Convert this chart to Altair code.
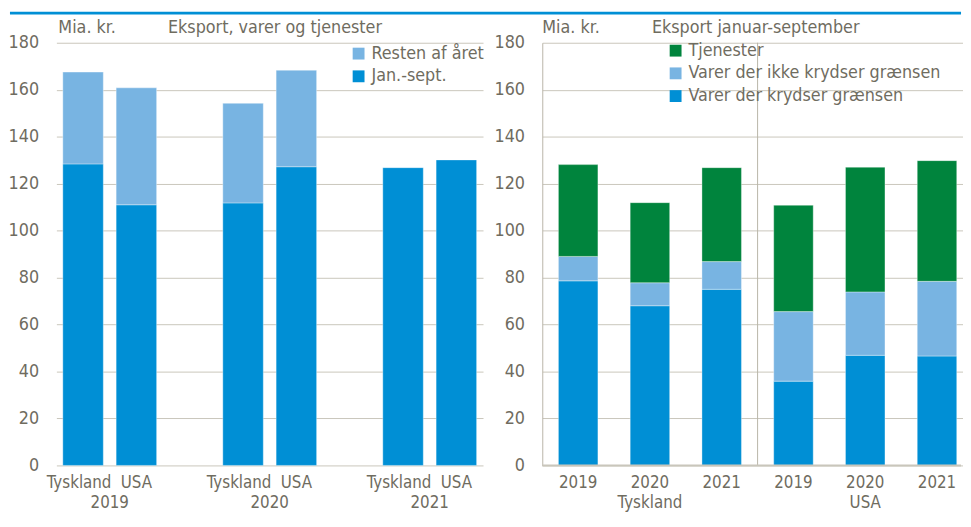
import altair as alt
import pandas as pd

FONT = "DejaVu Sans Condensed"
TXT = "#6f6c5f"
GRID = "#c9c6bb"
AXISC = "#b9b5a8"
BLUE = "#008fd5"
LIGHT = "#78b4e2"
GREEN = "#00843d"
FS = 18
FSX = 17

# ---------------- data ----------------
years = ["2019", "2020", "2021"]
countries = ["Tyskland", "USA"]

left_series = ["Resten af året", "Jan.-sept."]
jan_sept_tyskland = [128.4, 111.8, 126.8]
jan_sept_usa = [111.0, 127.2, 130.1]
rest_years = ["2019", "2020"]
rest_tyskland = [39.1, 42.4]
rest_usa = [49.8, 41.1]

right_series = ["Tjenester", "Varer der ikke krydser grænsen", "Varer der krydser grænsen"]
krydser_tyskland = [78.6, 68.0, 75.0]
ikke_tyskland = [10.4, 9.8, 11.8]
tjenester_tyskland = [39.1, 34.1, 40.0]
krydser_usa = [35.9, 46.9, 46.6]
ikke_usa = [29.6, 27.0, 31.8]
tjenester_usa = [45.3, 53.1, 51.4]

left_titles = ["Mia. kr.", "Eksport, varer og tjenester"]
right_titles = ["Mia. kr.", "Eksport januar-september"]
y_ticks = [0, 20, 40, 60, 80, 100, 120, 140, 160, 180]

# ---------------- tables ----------------
left_slots = ["2019|Tyskland", "2019|USA", "gap1",
              "2020|Tyskland", "2020|USA", "gap2",
              "2021|Tyskland", "2021|USA"]
rows = []
for c, js, rs in [("Tyskland", jan_sept_tyskland, rest_tyskland),
                  ("USA", jan_sept_usa, rest_usa)]:
    for y, v in zip(years, js):
        rows.append({"slot": f"{y}|{c}", "series": "Jan.-sept.", "value": v, "ord": 0})
    for y, v in zip(rest_years, rs):
        rows.append({"slot": f"{y}|{c}", "series": "Resten af året", "value": v, "ord": 1})
dfl = pd.DataFrame(rows)
dfl_lab_t = pd.DataFrame([{"slot": f"{y}|Tyskland", "t": "Tyskland"} for y in years])
dfl_lab_u = pd.DataFrame([{"slot": f"{y}|USA", "t": "USA"} for y in years])

right_slots = [f"{c}|{y}" for c in countries for y in years]
rows = []
for c, kr, ik, tj in [("Tyskland", krydser_tyskland, ikke_tyskland, tjenester_tyskland),
                      ("USA", krydser_usa, ikke_usa, tjenester_usa)]:
    for i, y in enumerate(years):
        rows.append({"slot": f"{c}|{y}", "series": right_series[2], "value": kr[i], "ord": 0})
        rows.append({"slot": f"{c}|{y}", "series": right_series[1], "value": ik[i], "ord": 1})
        rows.append({"slot": f"{c}|{y}", "series": right_series[0], "value": tj[i], "ord": 2})
dfr = pd.DataFrame(rows)
dfr_lab = pd.DataFrame([{"slot": f"{c}|{y}", "t": y} for c in countries for y in years])

W_L, W_R, H, GAP = 432, 424, 428, 60
ROW1, ROW2 = H + 23, H + 43

def txt(size=FS, **kw):
    base = dict(baseline="alphabetic", font=FONT, fontSize=size, color=TXT)
    base.update(kw)
    return base

def text_layer(t, x, y, align="left"):
    return alt.Chart(pd.DataFrame({"t": [t]})).mark_text(**txt(align=align)).encode(
        text="t:N", x=alt.value(x), y=alt.value(y))

def y_enc(domain_line):
    return alt.Y("value:Q", stack="zero",
                 scale=alt.Scale(domain=[0, 180], nice=False),
                 axis=alt.Axis(title=None, values=y_ticks, domain=domain_line,
                               domainColor=AXISC, domainWidth=1, ticks=False,
                               grid=True, gridColor=GRID, gridWidth=1,
                               labelPadding=18, labelFont=FONT, labelFontSize=FS,
                               labelColor=TXT))

def legend(x, y):
    return alt.Legend(title=None, orient="none", legendX=x, legendY=y,
                      symbolType="square", symbolSize=144, symbolStrokeWidth=0,
                      rowPadding=5, padding=0, labelOffset=4, labelLimit=400,
                      labelFont=FONT, labelFontSize=FS, labelColor=TXT)

# ---------------- left panel ----------------
xl_scale = alt.Scale(domain=left_slots, paddingInner=0, paddingOuter=0)
bars_l = alt.Chart(dfl).mark_bar(width=41, stroke="white", strokeWidth=0.6, strokeOpacity=0.6).encode(
    x=alt.X("slot:N", scale=xl_scale,
            axis=alt.Axis(title=None, labels=False, ticks=False, domain=True,
                          domainColor=GRID, domainWidth=2, grid=False)),
    y=y_enc(False),
    color=alt.Color("series:N", scale=alt.Scale(domain=left_series, range=[LIGHT, BLUE]),
                    legend=legend(297, 2)),
    order=alt.Order("ord:Q"),
)
countries_lt = alt.Chart(dfl_lab_t).mark_text(**txt(FSX, dx=-4)).encode(
    x=alt.X("slot:N", scale=xl_scale, axis=None), y=alt.value(ROW1), text="t:N")
countries_lu = alt.Chart(dfl_lab_u).mark_text(**txt(FSX)).encode(
    x=alt.X("slot:N", scale=xl_scale, axis=None), y=alt.value(ROW1), text="t:N")
years_l = alt.Chart(pd.DataFrame({"slot": [f"{y}|Tyskland" for y in years], "t": years})).mark_text(
    **txt(FSX)).encode(x=alt.X("slot:N", bandPosition=1, scale=xl_scale, axis=None),
                       y=alt.value(ROW2), text="t:N")
top_rule = alt.Chart(pd.DataFrame({"a": [0]})).mark_rule(color=BLUE, strokeWidth=3).encode(
    x=alt.value(-47), x2=alt.value(W_L + GAP + W_R), y=alt.value(-30))
left = alt.layer(
    bars_l, countries_lt, countries_lu, years_l, top_rule,
    text_layer(left_titles[0], 2, -10),
    text_layer(left_titles[1], 113, -10),
).properties(width=W_L, height=H)

# ---------------- right panel ----------------
xr_scale = alt.Scale(domain=right_slots, range=[0, 436], paddingInner=0, paddingOuter=0)
bars_r = alt.Chart(dfr).mark_bar(width=40, stroke="white", strokeWidth=0.6, strokeOpacity=0.6).encode(
    x=alt.X("slot:N", scale=xr_scale,
            axis=alt.Axis(title=None, labels=False, ticks=False, domain=False, grid=False)),
    y=y_enc(True),
    color=alt.Color("series:N", scale=alt.Scale(domain=right_series, range=[GREEN, LIGHT, BLUE]),
                    legend=legend(126, -1)),
    order=alt.Order("ord:Q"),
)
sep_r = alt.Chart(pd.DataFrame({"slot": ["USA|2019"]})).mark_rule(color=AXISC, strokeWidth=1).encode(
    x=alt.X("slot:N", bandPosition=0, scale=xr_scale, axis=None),
    y=alt.value(0), y2=alt.value(H))
zero_r = alt.Chart(pd.DataFrame({"a": [0]})).mark_rule(color=GRID, strokeWidth=2).encode(
    x=alt.value(0), x2=alt.value(W_R), y=alt.value(H))
years_r = alt.Chart(dfr_lab).mark_text(**txt(FSX)).encode(
    x=alt.X("slot:N", scale=xr_scale, axis=None), y=alt.value(ROW1), text="t:N")
countries_r = alt.Chart(pd.DataFrame({"slot": [f"{c}|2020" for c in countries], "t": countries})).mark_text(
    **txt(FSX)).encode(x=alt.X("slot:N", scale=xr_scale, axis=None), y=alt.value(ROW2), text="t:N")
right = alt.layer(
    bars_r, sep_r, zero_r, years_r, countries_r,
    text_layer(right_titles[0], 0, -10),
    text_layer(right_titles[1], 111, -10),
).properties(width=W_R, height=H)

chart = alt.hconcat(left, right, spacing=GAP, bounds="flush", padding=0,
                    background="white").resolve_scale(
    color="independent", x="independent", y="independent"
).resolve_legend(color="independent").configure_view(stroke=None)

chart.save("out.html", embed_options={"renderer": "svg", "actions": False})
